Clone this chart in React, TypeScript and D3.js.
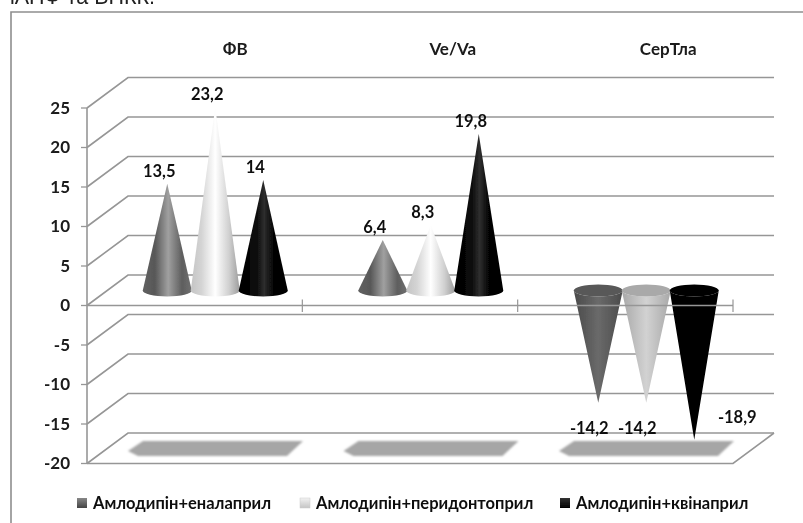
import React from "react";
import * as d3 from "d3";

const categories = ["ФВ", "Ve/Va", "СерТла"];
const seriesNames = ["Амлодипін+еналаприл", "Амлодипін+перидонтоприл", "Амлодипін+квінаприл"];
const enalapril = [13.5, 6.4, -14.2];
const peridopril = [23.2, 8.3, -14.2];
const kvinapril = [14, 19.8, -18.9];
const seriesValues = [enalapril, peridopril, kvinapril];
const valueLabels = [["13,5", "6,4", "-14,2"], ["23,2", "8,3", "-14,2"], ["14", "19,8", "-18,9"]];
const yTicks = [25, 20, 15, 10, 5, 0, -5, -10, -15, -20];

const W = 803, H = 523;
const FONT = "Lato, 'Noto Sans', sans-serif";
const GRID = "#969696";
const frontX0 = 87, frontX1 = 733, depthX = 41, depthY = 30.5;
const y = d3.scaleLinear().domain([-20, 25]).range([463.5, 108]);
const coneBase = (v: number) => y(v) - 15;
const cat = d3.scaleBand<string>().domain(categories).range([107.5, 754]);
const ser = d3.scaleBand<number>().domain([0, 1, 2]).range([-72, 72]);
const halfW = 24.5, ry = 6;

const upGrad = [
  [["0", "#606060"], ["0.25", "#585858"], ["0.52", "#a0a0a0"], ["0.8", "#5e5e5e"], ["1", "#707070"]],
  [["0", "#c4c4c4"], ["0.22", "#d4d4d4"], ["0.5", "#ffffff"], ["0.78", "#d0d0d0"], ["1", "#9c9c9c"]],
  [["0", "#000"], ["0.35", "#0a0a0a"], ["0.52", "#2e2e2e"], ["0.7", "#060606"], ["1", "#000"]],
];
const downGrad = [
  [["0", "#4a4a4a"], ["0.5", "#6a6a6a"], ["1", "#4a4a4a"]],
  [["0", "#a8a8a8"], ["0.5", "#d2d2d2"], ["1", "#a8a8a8"]],
  [["0", "#000"], ["1", "#000"]],
];
const capColors = ["#585858", "#a9a9a9", "#000"];
const legendX = [77, 300, 560];
const legendSwatch = ["url(#lg0)", "url(#lg1)", "url(#lg2)"];
const titleDx = [20, 22, 22];

function Cone({ cx, v, s }: { cx: number; v: number; s: number }) {
  const b = coneBase(0);
  const tip = coneBase(v);
  const up = v >= 0;
  const d = `M${cx - halfW},${b} L${cx},${tip} L${cx + halfW},${b} A${halfW},${ry} 0 0 1 ${cx - halfW},${b} Z`;
  return (
    <g>
      <path d={d} fill={`url(#${up ? "u" : "d"}${s})`} />
      {!up && <ellipse cx={cx} cy={b} rx={halfW} ry={ry} fill={capColors[s]} />}
    </g>
  );
}

export default function App() {
  const back = (v: number) => y(v) - depthY;
  return (
    <svg width={W} height={H} style={{ position: "absolute", left: 0, top: 0, background: "#fff" }} fontFamily={FONT}>
      <defs>
        {upGrad.map((g, i) => (
          <linearGradient key={i} id={`u${i}`} x1="0" x2="1" y1="0" y2="0">
            {g.map(([o, c]) => <stop key={o} offset={o} stopColor={c} />)}
          </linearGradient>
        ))}
        {downGrad.map((g, i) => (
          <linearGradient key={i} id={`d${i}`} x1="0" x2="1" y1="0" y2="0">
            {g.map(([o, c]) => <stop key={o} offset={o} stopColor={c} />)}
          </linearGradient>
        ))}
        <linearGradient id="lg0" x1="0" x2="0" y1="0" y2="1"><stop offset="0" stopColor="#888" /><stop offset="1" stopColor="#444" /></linearGradient>
        <linearGradient id="lg1" x1="0" x2="0" y1="0" y2="1"><stop offset="0" stopColor="#f2f2f2" /><stop offset="1" stopColor="#c4c4c4" /></linearGradient>
        <linearGradient id="lg2" x1="0" x2="0" y1="0" y2="1"><stop offset="0" stopColor="#333" /><stop offset="1" stopColor="#000" /></linearGradient>
        <filter id="soft" x="-10%" y="-40%" width="120%" height="180%"><feGaussianBlur stdDeviation="0.9" /></filter>
        <filter id="img" x="0" y="0" width="100%" height="100%"><feGaussianBlur stdDeviation="0.35" /></filter>
      </defs>
      <g filter="url(#img)">
        <rect x={0} y={0} width={W} height={H} fill="#fff" />
        <text x={10} y={4} fontFamily="'Liberation Sans', sans-serif" fontSize={21.5} fill="#222">іАПФ та ВНКК.</text>
        <path d={`M11,${H} V12 H${W}`} fill="none" stroke="#8e8e8e" strokeWidth={1.6} />

        {/* back wall gridlines and side wall diagonals */}
        {yTicks.map((t) => (
          <g key={t}>
            <path
              d={`M${frontX0},${y(t)} L${frontX0 + depthX},${back(t)} H${frontX1 + depthX}`}
              fill="none" stroke={GRID} strokeWidth={1.6}
            />
            <line x1={frontX0 - 6} x2={frontX0} y1={y(t)} y2={y(t)} stroke={GRID} strokeWidth={1.3} />
            <text x={70} y={y(t)} dy="0.35em" textAnchor="end" fontSize={17} fontWeight={700} fill="#1a1a1a">{t}</text>
          </g>
        ))}
        <line x1={frontX0} x2={frontX0} y1={y(25)} y2={y(-20)} stroke={GRID} strokeWidth={1.6} />
        <path d={`M${frontX0},${y(-20)} H${frontX1} L${frontX1 + depthX},${back(-20)}`} fill="none" stroke={GRID} strokeWidth={1.6} />

        {/* floor shadows */}
        {categories.map((c) => {
          const x0 = cat(c)! + 20.5, x1 = cat(c)! + cat.bandwidth() - 20;
          return (
            <path key={c} filter="url(#soft)" fill="#a6a6a6"
              d={`M${x0},451 L${x0 + 15},441 H${x1} L${x1 - 16},456 H${x0 + 10} Z`} />
          );
        })}

        {/* cones */}
        {categories.map((c, i) => seriesValues.map((vals, s) => (
          <Cone key={`${c}${s}`} cx={cat(c)! + cat.bandwidth() / 2 + ser(s)! + ser.bandwidth() / 2} v={vals[i]} s={s} />
        )))}

        {/* zero axis in front of cones */}
        <line x1={frontX0} x2={frontX1} y1={y(0)} y2={y(0)} stroke={GRID} strokeWidth={1.6} />
        {[1, 2, 3].map((k) => {
          const x = frontX0 + (k * (frontX1 - frontX0)) / 3;
          return <line key={k} x1={x} x2={x} y1={y(0) - 6} y2={y(0) + 6.5} stroke={GRID} strokeWidth={1.2} />;
        })}

        {/* category headers */}
        {categories.map((c, i) => (
          <text key={c} x={cat(c)! + cat.bandwidth() / 2 + titleDx[i]} y={49.5} dy="0.35em" textAnchor="middle" fontSize={17} fontWeight={700} fill="#1a1a1a">{c}</text>
        ))}

        {/* value labels */}
        {categories.map((c, i) => seriesValues.map((vals, s) => {
          const v = vals[i];
          const cx = cat(c)! + cat.bandwidth() / 2 + ser(s)! + ser.bandwidth() / 2;
          const isLast = i === 2 && s === 2;
          const lx = isLast ? cx + 43 : i === 2 ? cx - 9 : cx - 8;
          const ly = isLast ? coneBase(v) - 23 : v < 0 ? coneBase(v) + 26 : coneBase(v) - 13;
          return (
            <text key={`${c}${s}`} x={lx} y={ly} dy="0.35em" textAnchor="middle" fontSize={16.5} fontWeight={700} fill="#111">{valueLabels[s][i]}</text>
          );
        }))}

        {/* legend */}
        {seriesNames.map((n, i) => (
          <g key={n}>
            <rect x={legendX[i]} y={498} width={10} height={10} fill={legendSwatch[i]} stroke={i === 1 ? "#ccc" : "none"} strokeWidth={0.5} />
            <text x={legendX[i] + 16} y={503} dy="0.35em" fontSize={16.5} fontWeight={700} fill="#111">{n}</text>
          </g>
        ))}
      </g>
    </svg>
  );
}
